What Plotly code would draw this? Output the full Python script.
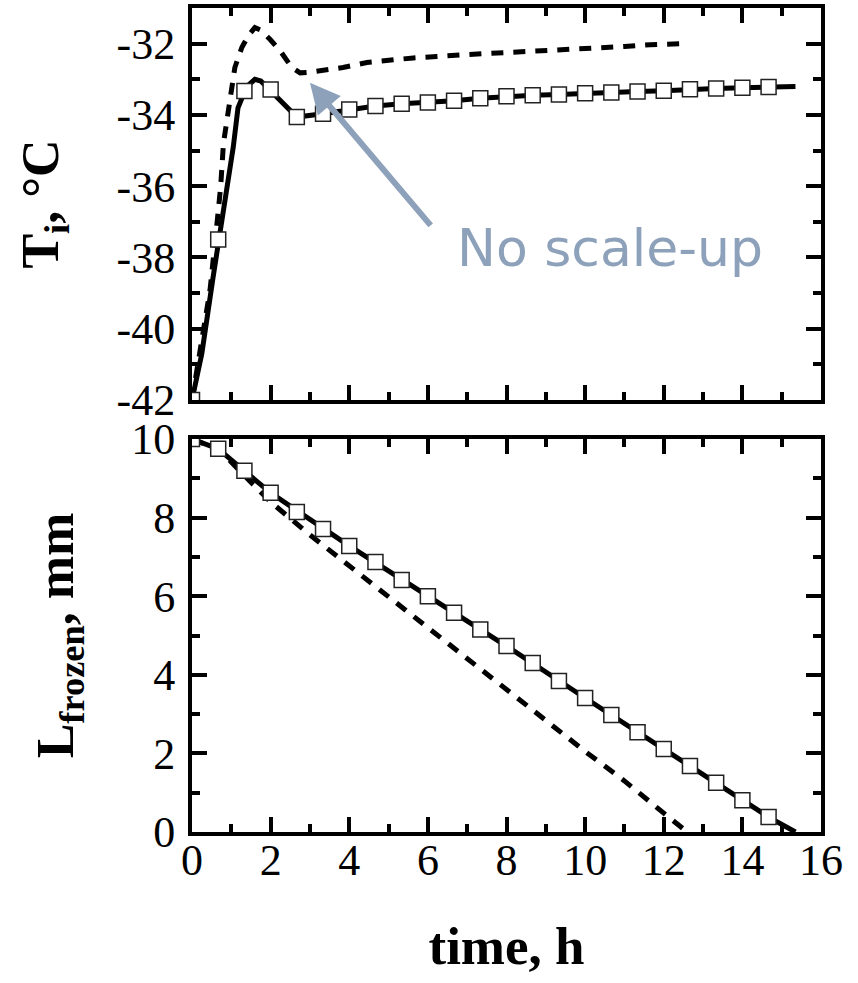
import plotly.graph_objects as go

# ---- data ----
# sampled points (open squares), every 40 min
t_pts = [i * 2 / 3 for i in range(23)]
T_pts = [-42.0, -37.5, -33.33, -33.29, -34.06, -33.97, -33.85, -33.75, -33.69,
         -33.65, -33.60, -33.53, -33.48, -33.45, -33.43, -33.39, -33.37, -33.34,
         -33.32, -33.28, -33.26, -33.24, -33.22]
L_pts = [10.0, 9.75, 9.19, 8.63, 8.14, 7.71, 7.28, 6.87, 6.41, 6.0, 5.58, 5.15,
         4.73, 4.30, 3.84, 3.41, 2.98, 2.54, 2.11, 1.68, 1.25, 0.81, 0.38]

# scaled-up model, interface temperature (solid)
t_model = [0, 0.25, 0.53, 0.69, 0.92, 1.05, 1.17, 1.3, 1.45, 1.6, 1.75, 1.91,
           2.0, 2.24, 2.57, 2.667, 3.333, 4.0, 4.667, 5.333, 6.0, 6.667, 7.333,
           8.0, 8.667, 9.333, 10.0, 10.667, 11.333, 12.0, 12.667, 13.333, 14.0,
           14.667, 15.35]
T_model = [-42.0, -40.7, -38.6, -37.5, -35.9, -34.9, -33.8, -33.45, -33.15,
           -33.0, -33.05, -33.23, -33.29, -33.57, -33.97, -34.06, -33.97, -33.85,
           -33.75, -33.69, -33.65, -33.60, -33.53, -33.48, -33.45, -33.43, -33.39,
           -33.37, -33.34, -33.32, -33.28, -33.26, -33.24, -33.22, -33.2]
# scaled-up model, frozen layer thickness (solid)
t_model_L = [0, 0.667, 1.333, 2.0, 4.0, 6.0, 8.0, 10.0, 12.0, 14.0, 14.667, 15.35]
L_model = [10.0, 9.75, 9.19, 8.63, 7.28, 6.0, 4.73, 3.41, 2.11, 0.81, 0.38, 0.0]

# no scale-up (dashed)
t_noscale = [0, 0.2, 0.46, 0.64, 0.73, 0.8, 0.97, 1.09, 1.27, 1.45, 1.6, 1.75,
             2.0, 2.24, 2.54, 2.75, 3.0, 3.3, 3.84, 4.45, 5.04, 5.63, 6.23, 6.9,
             7.4, 8.0, 8.6, 9.2, 9.8, 10.4, 11.0, 11.65, 12.0, 12.6]
T_noscale = [-42.0, -40.6, -38.9, -37.0, -36.0, -34.8, -33.5, -32.67, -32.1,
             -31.75, -31.55, -31.62, -31.9, -32.2, -32.67, -32.82, -32.8, -32.76,
             -32.67, -32.53, -32.45, -32.4, -32.36, -32.3, -32.28, -32.25, -32.22,
             -32.17, -32.14, -32.1, -32.08, -32.03, -32.02, -32.0]
t_noscale_L = [0, 0.7, 1.4, 2.0, 3.0, 4.0, 5.0, 6.0, 7.0, 8.0, 9.0, 10.0, 11.0,
               12.0, 12.6]
L_noscale = [10.0, 9.72, 9.0, 8.4, 7.56, 6.78, 5.98, 5.18, 4.43, 3.64, 2.84,
             2.05, 1.3, 0.48, 0.0]

x_ticks = [0, 2, 4, 6, 8, 10, 12, 14, 16]
x_tick_text = ["0", "2", "4", "6", "8", "10", "12", "14", "16"]
T_ticks = [-42, -40, -38, -36, -34, -32]
T_tick_text = ["-42", "-40", "-38", "-36", "-34", "-32"]
L_ticks = [0, 2, 4, 6, 8, 10]
L_tick_text = ["0", "2", "4", "6", "8", "10"]

LINE_W = 5
ARROW_C = "#8DA2BA"
SERIF = "Liberation Serif, Times New Roman, serif"

fig = go.Figure()

line_solid = dict(color="black", width=LINE_W)
line_dash = dict(color="black", width=LINE_W, dash="12px,10px")
sq = dict(symbol="square", size=15, color="white",
          line=dict(color="#222", width=1.5))

# top panel
fig.add_trace(go.Scatter(x=t_noscale, y=T_noscale, mode="lines", line=line_dash,
                         xaxis="x", yaxis="y", showlegend=False))
fig.add_trace(go.Scatter(x=t_model, y=T_model, mode="lines", line=line_solid,
                         xaxis="x", yaxis="y", showlegend=False))
fig.add_trace(go.Scatter(x=t_pts, y=T_pts, mode="markers", marker=sq,
                         xaxis="x", yaxis="y", showlegend=False))
# bottom panel
fig.add_trace(go.Scatter(x=t_noscale_L, y=L_noscale, mode="lines", line=line_dash,
                         xaxis="x2", yaxis="y2", showlegend=False))
fig.add_trace(go.Scatter(x=t_model_L, y=L_model, mode="lines", line=line_solid,
                         xaxis="x2", yaxis="y2", showlegend=False))
fig.add_trace(go.Scatter(x=t_pts, y=L_pts, mode="markers", marker=sq,
                         xaxis="x2", yaxis="y2", showlegend=False))

axis_common = dict(showline=True, linecolor="black", linewidth=4, mirror="allticks",
                   ticks="inside", ticklen=15, tickwidth=4, tickcolor="black",
                   showgrid=False, zeroline=False, automargin=False,
                   tickfont=dict(family=SERIF, size=44, color="black"),
                   minor=dict(ticks="inside", ticklen=8, tickwidth=4,
                              tickcolor="black", dtick=1, showgrid=False))

fig.update_layout(
    width=858, height=983,
    margin=dict(l=192, r=37, t=8, b=151),
    paper_bgcolor="white", plot_bgcolor="white",
    xaxis=dict(axis_common, range=[0, 16], tickvals=x_ticks, showticklabels=False,
               anchor="y"),
    yaxis=dict(axis_common, range=[-42, -31], tickvals=T_ticks,
               ticktext=T_tick_text, domain=[0.5243, 1], anchor="x",
               ticklabelstandoff=4,
               title=dict(text="<b>T<sub>i</sub>, °C</b>", standoff=42,
                          font=dict(family=SERIF, size=52, color="black"))),
    xaxis2=dict(axis_common, range=[0, 16], tickvals=x_ticks, ticktext=x_tick_text,
                anchor="y2", ticklabelstandoff=-14,
                title=dict(text="<b>time, h</b>", standoff=44,
                           font=dict(family=SERIF, size=53, color="black"))),
    yaxis2=dict(axis_common, range=[0, 10], tickvals=L_ticks, ticktext=L_tick_text,
                domain=[0, 0.4769], anchor="x2", ticklabelstandoff=4,
                title=dict(text="<b>L<sub>frozen</sub>, mm</b>", standoff=42,
                           font=dict(family=SERIF, size=52, color="black"))),
)

# arrow pointing at the no-scale-up curve
fig.add_annotation(x=3.0, y=-33.1, xref="x", yref="y", ax=122, ay=144,
                   axref="pixel", ayref="pixel", text="", showarrow=True,
                   arrowhead=2, arrowsize=1, arrowwidth=6, arrowcolor=ARROW_C)
fig.add_annotation(x=10.63, y=-37.73, xref="x", yref="y", text="No scale-up",
                   showarrow=False, xanchor="center", yanchor="middle",
                   font=dict(family="DejaVu Sans", size=52, color=ARROW_C))

fig.write_html("out.html")
